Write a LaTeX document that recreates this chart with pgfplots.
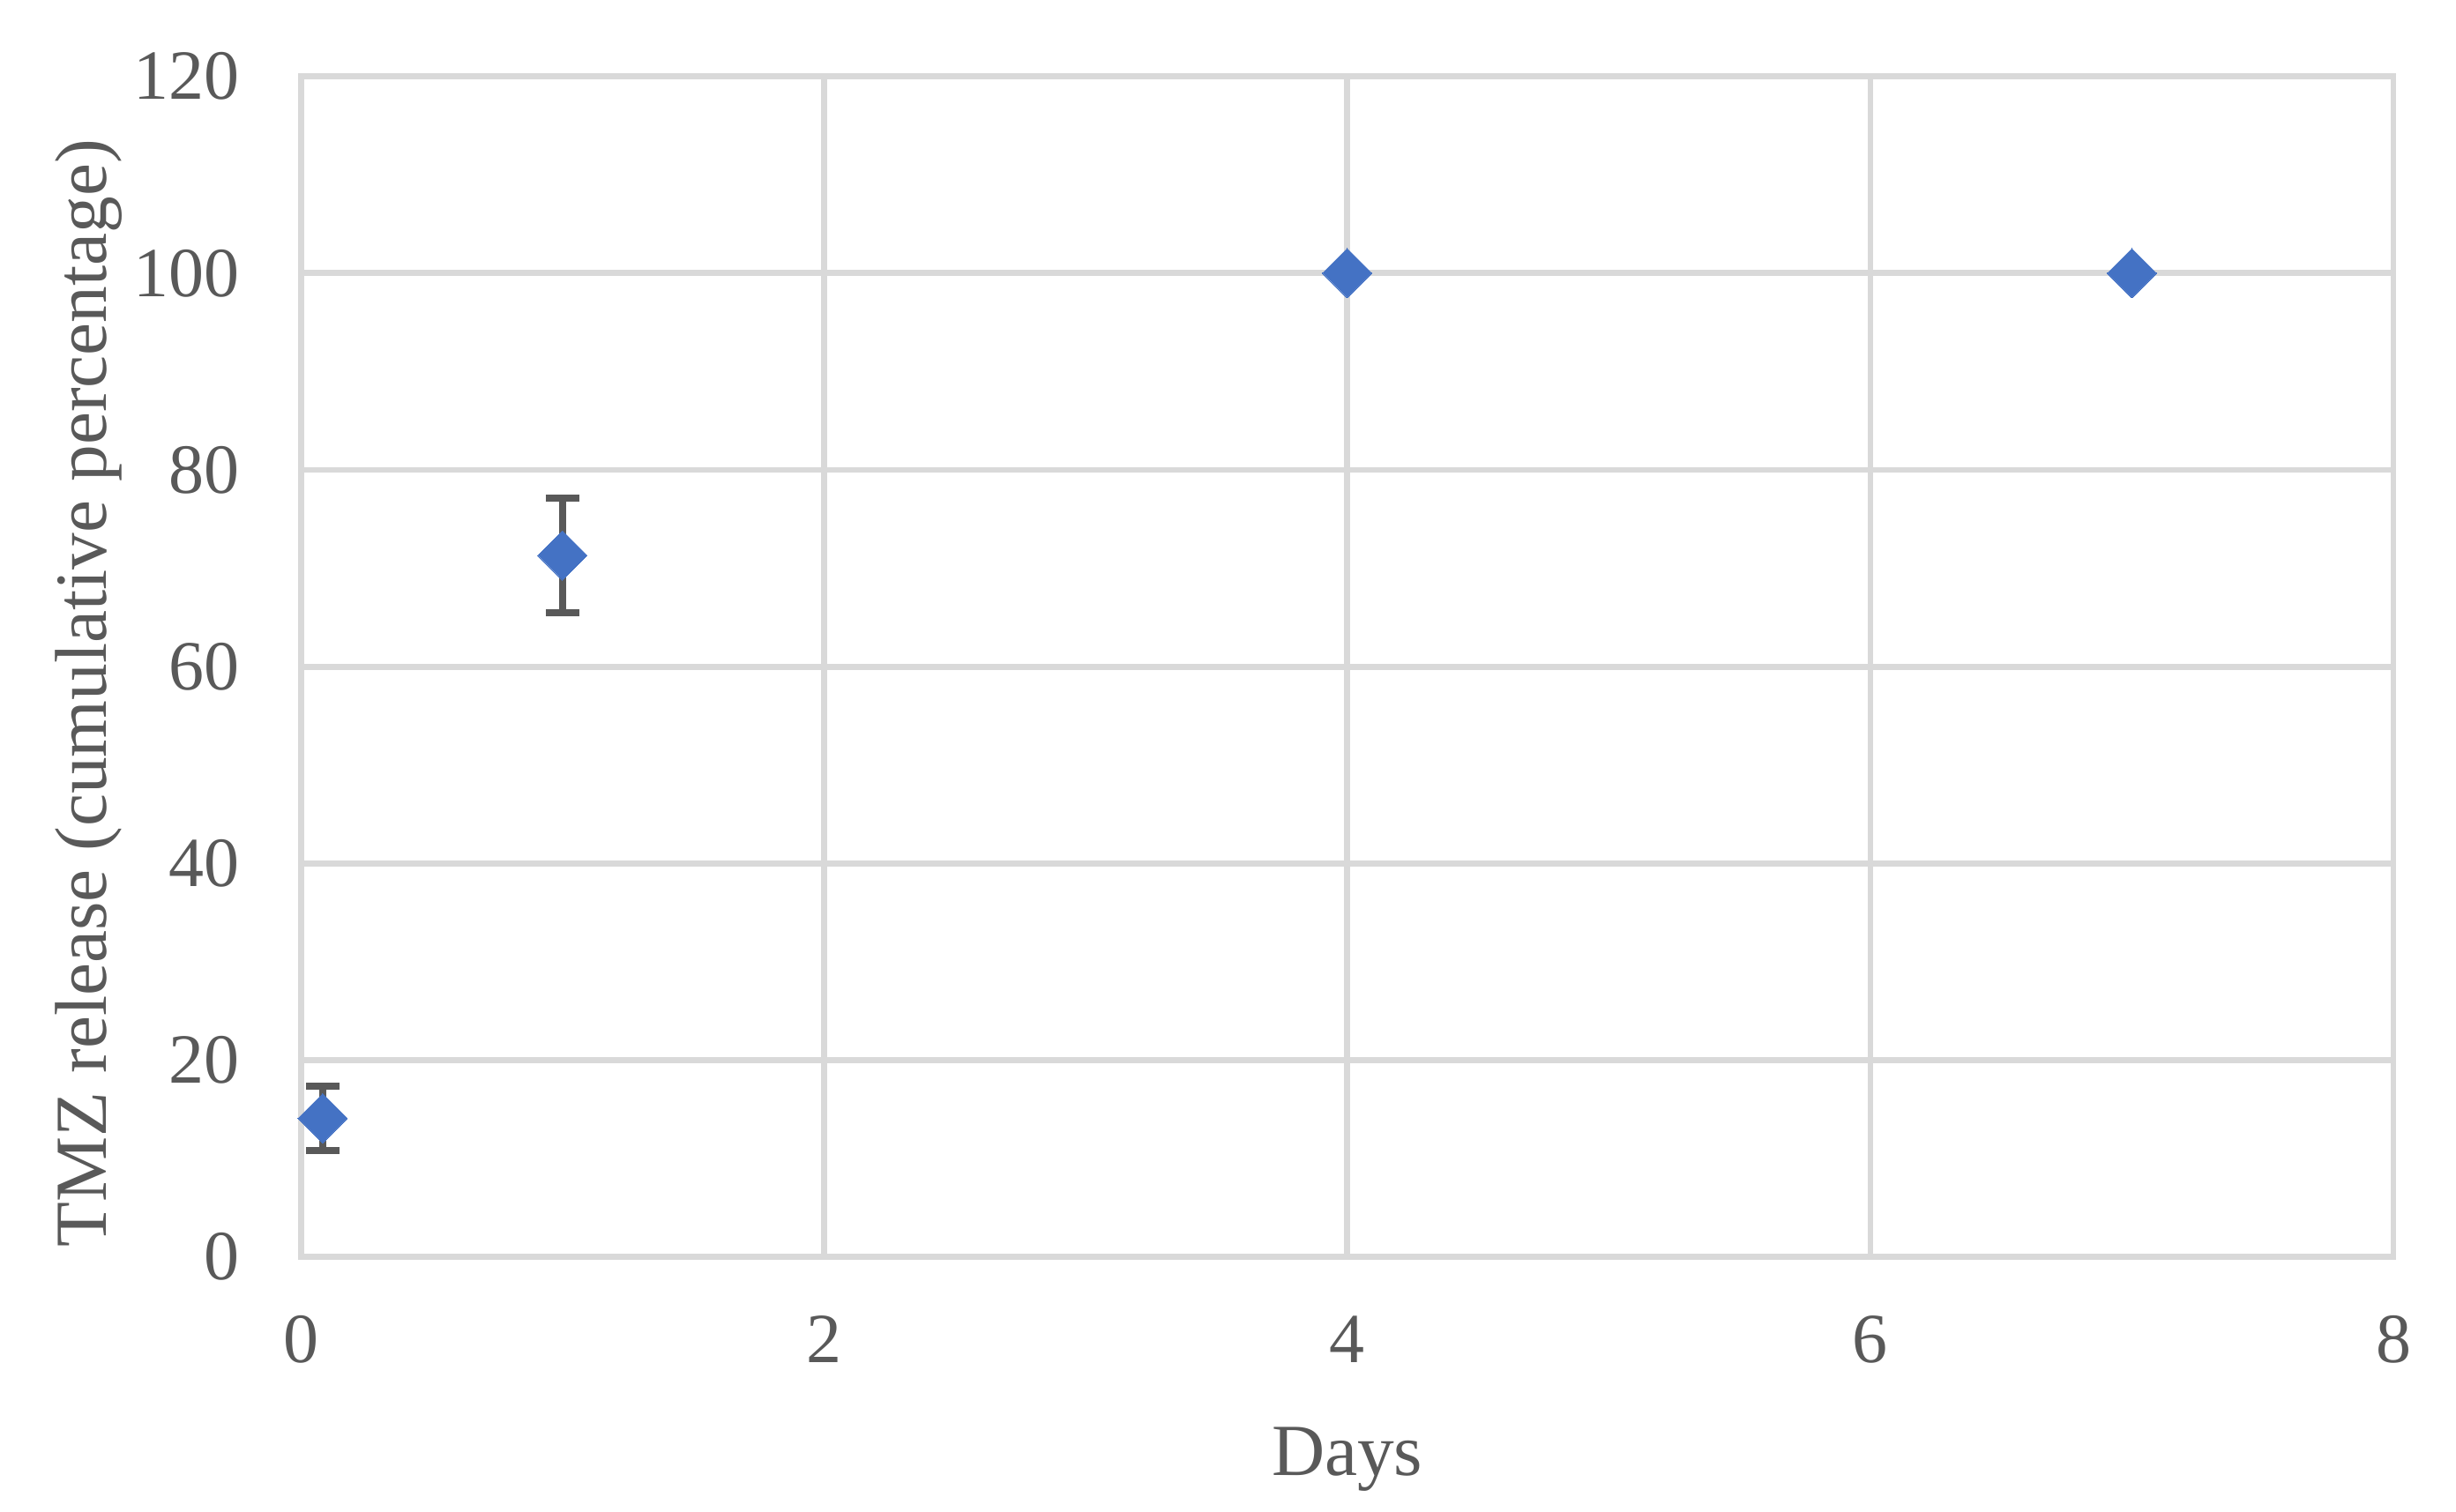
\documentclass[border=0pt]{standalone}
\usepackage{pgfplots}
\pgfplotsset{compat=1.18}
\usepackage{fontspec}
\setmainfont{Liberation Serif}
\definecolor{txtgray}{HTML}{595959}
\definecolor{gridgray}{HTML}{D9D9D9}
\definecolor{mkblue}{HTML}{4472C4}
\begin{document}
\begin{tikzpicture}
\begin{axis}[
  name=ax,
  width=356pt, height=200.9pt,
  scale only axis,
  xmin=0, xmax=8, ymin=0, ymax=120,
  xtick={0,2,4,6,8}, ytick={0,20,40,60,80,100,120},
  grid=major,
  major grid style={gridgray, line width=1pt},
  axis line style={gridgray, line width=1pt},
  major tick length=0pt,
  /pgf/number format/assume math mode=true,
  tick label style={font=\fontsize{12}{14}\selectfont, text=txtgray},
  yticklabel style={xshift=-7pt},
  xticklabel style={yshift=-6.5pt},
  label style={font=\fontsize{12.5}{15}\selectfont, text=txtgray},
  xlabel={Days},
  ylabel={TMZ release (cumulative percentage)},
  xlabel style={yshift=-4pt},
  ylabel style={yshift=-5pt, xshift=-4.5pt},
]
\addplot[only marks, mark=square*, mark size=2.97pt,
  mark options={rotate=45, fill=mkblue, draw=mkblue, line width=0pt},
  error bars/.cd, y dir=both, y explicit,
  error bar style={color=txtgray, line width=1.2pt},
  error mark options={color=txtgray, line width=1.2pt, mark size=2.8pt, rotate=90}]
  table[x=x, y=y, y error=e] {
x y e
0.0833 14.1 3.3
1 71.3 5.8
4 100 0
7 100 0
};
\end{axis}
\pgfresetboundingbox
\path[use as bounding box] ([shift={(-51.2pt,-43.4pt)}]ax.south west) rectangle ([shift={(10.65pt,13pt)}]ax.north east);
\end{tikzpicture}
\end{document}
